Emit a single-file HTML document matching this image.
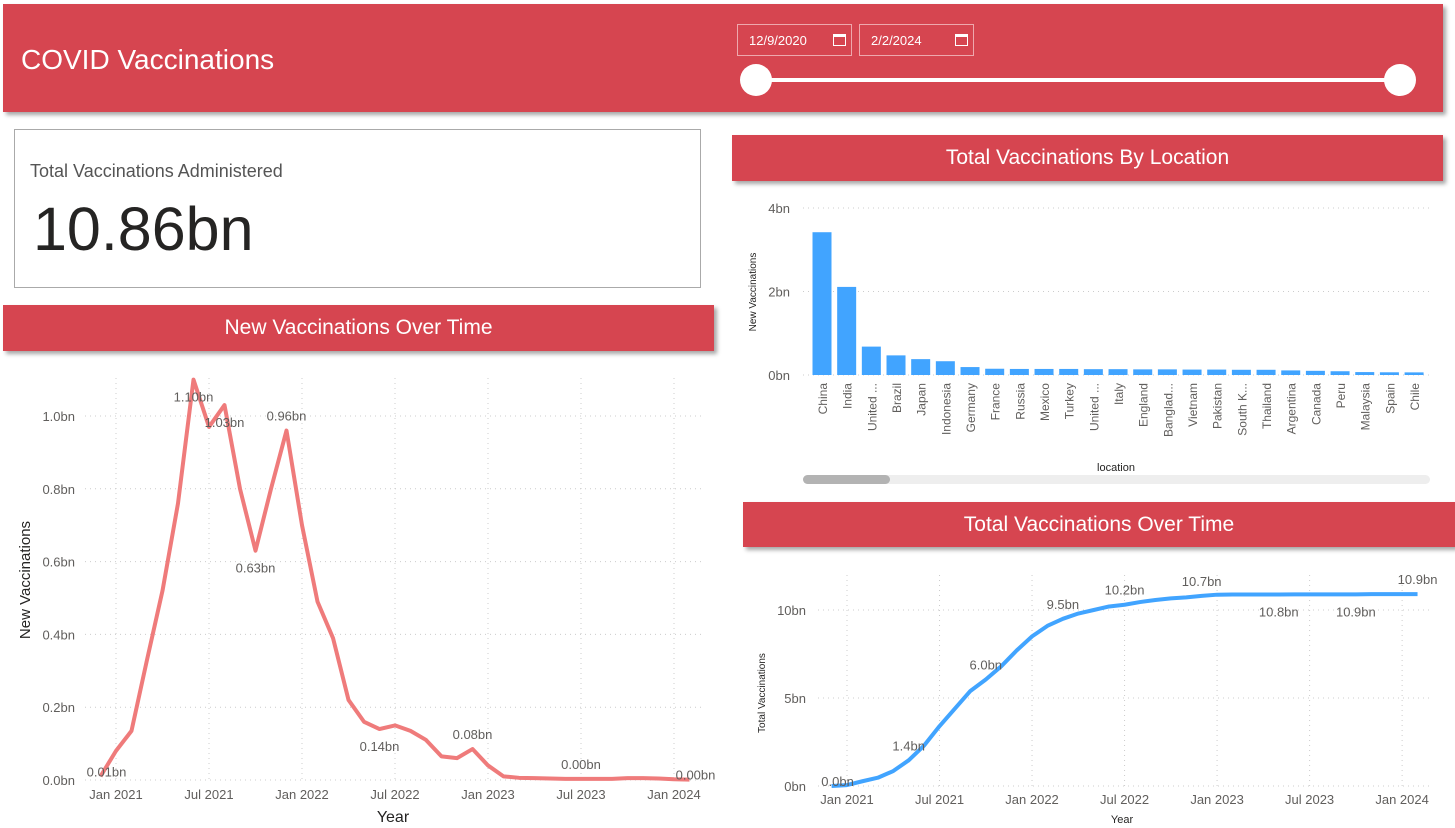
<!DOCTYPE html>
<html><head><meta charset="utf-8"><style>
body{margin:0;width:1455px;height:828px;background:#fff;position:relative;overflow:hidden;font-family:"Liberation Sans",sans-serif}
.red{position:absolute;background:#d64550;color:#fff;box-shadow:3px 3px 4px rgba(0,0,0,.35)}
.sec{display:flex;align-items:center;justify-content:center;font-size:21px}
.date{position:absolute;top:20px;height:32px;border:1px solid #eea8ad;color:#fff;font-size:13px;line-height:32px;padding-left:11px;box-sizing:border-box}
.cal{position:absolute;right:5px;top:9px;width:13px;height:12px;border:1px solid #fff;box-sizing:border-box;border-top-width:3px}
svg{position:absolute;left:0;top:0}
</style></head><body>
<div class="red" style="left:3px;top:4px;width:1440px;height:108px">
 <div style="position:absolute;left:18px;top:40px;font-size:28px">COVID Vaccinations</div>
 <div class="date" style="left:734px;width:115px">12/9/2020<div class="cal"></div></div>
 <div class="date" style="left:856px;width:115px">2/2/2024<div class="cal"></div></div>
 <div style="position:absolute;left:753px;top:74px;width:644px;height:4px;background:#fff"></div>
 <div style="position:absolute;left:737px;top:60px;width:32px;height:32px;border-radius:50%;background:#fff"></div>
 <div style="position:absolute;left:1381px;top:60px;width:32px;height:32px;border-radius:50%;background:#fff"></div>
</div>
<div style="position:absolute;left:14px;top:129px;width:685px;height:157px;border:1px solid #aaa">
 <div style="position:absolute;left:15px;top:31px;font-size:18px;color:#555">Total Vaccinations Administered</div>
 <div style="position:absolute;left:18px;top:64px;font-size:61px;color:#252423">10.86bn</div>
</div>
<div class="red sec" style="left:3px;top:305px;width:711px;height:46px">New Vaccinations Over Time</div>
<div class="red sec" style="left:732px;top:135px;width:711px;height:46px">Total Vaccinations By Location</div>
<div class="red sec" style="left:743px;top:502px;width:712px;height:45px">Total Vaccinations Over Time</div>
<svg id="s" width="1455" height="828" font-family="Liberation Sans, sans-serif"></svg>
<div style="position:absolute;left:803px;top:475px;width:627px;height:9px;border-radius:5px;background:#eee"></div>
<div style="position:absolute;left:803px;top:475px;width:87px;height:9px;border-radius:5px;background:#b3b3b3"></div>
<script>
const months=["Dec 2020","Jan 2021","Feb 2021","Mar 2021","Apr 2021","May 2021","Jun 2021","Jul 2021","Aug 2021","Sep 2021","Oct 2021","Nov 2021","Dec 2021","Jan 2022","Feb 2022","Mar 2022","Apr 2022","May 2022","Jun 2022","Jul 2022","Aug 2022","Sep 2022","Oct 2022","Nov 2022","Dec 2022","Jan 2023","Feb 2023","Mar 2023","Apr 2023","May 2023","Jun 2023","Jul 2023","Aug 2023","Sep 2023","Oct 2023","Nov 2023","Dec 2023","Jan 2024","Feb 2024"];
const newVacc=[0.01,0.08,0.135,0.33,0.52,0.76,1.10,0.97,1.03,0.80,0.63,0.80,0.96,0.70,0.49,0.39,0.22,0.16,0.14,0.15,0.135,0.11,0.065,0.06,0.085,0.04,0.01,0.006,0.005,0.004,0.003,0.003,0.003,0.003,0.005,0.005,0.004,0.002,0.001];
const newLabels=[[0,"0.01bn",0],[6,"1.10bn",1],[8,"1.03bn",1],[10,"0.63bn",1],[12,"0.96bn",-1],[18,"0.14bn",1],[24,"0.08bn",-1],[31,"0.00bn",-1],[38,"0.00bn",0]];
const newTicks=[0,0.2,0.4,0.6,0.8,1.0];
const newTickLabels=["0.0bn","0.2bn","0.4bn","0.6bn","0.8bn","1.0bn"];
const xTickLabels=["Jan 2021","Jul 2021","Jan 2022","Jul 2022","Jan 2023","Jul 2023","Jan 2024"];
const locations=["China","India","United ...","Brazil","Japan","Indonesia","Germany","France","Russia","Mexico","Turkey","United ...","Italy","England","Banglad...","Vietnam","Pakistan","South K...","Thailand","Argentina","Canada","Peru","Malaysia","Spain","Chile"];
const locValues=[3.42,2.11,0.68,0.47,0.38,0.33,0.19,0.15,0.145,0.145,0.145,0.14,0.14,0.135,0.135,0.13,0.13,0.125,0.125,0.11,0.10,0.09,0.07,0.065,0.063];
const locTicks=[0,2,4];
const locTickLabels=["0bn","2bn","4bn"];
const totalVacc=[0.0,0.05,0.27,0.47,0.85,1.46,2.3,3.4,4.4,5.4,6.05,6.8,7.7,8.5,9.1,9.5,9.8,10.0,10.2,10.3,10.45,10.57,10.66,10.72,10.8,10.87,10.88,10.88,10.88,10.88,10.89,10.89,10.89,10.89,10.89,10.9,10.9,10.9,10.9];
const totLabels=[[0,"0.0bn",0],[5,"1.4bn",-1],[10,"6.0bn",-1],[15,"9.5bn",-1],[19,"10.2bn",-1],[24,"10.7bn",-1],[29,"10.8bn",1],[34,"10.9bn",1],[38,"10.9bn",-1]];
const totTicks=[0,5,10];
const totTickLabels=["0bn","5bn","10bn"];

const S=document.getElementById('s');const NS="http://www.w3.org/2000/svg";
function mk(t,a,txt){const e=document.createElementNS(NS,t);for(const k in a)e.setAttribute(k,a[k]);if(txt!=null)e.textContent=txt;S.appendChild(e);return e;}

function timeChart(o){
 const x=i=>o.x0+(i-1)*o.mw, y=v=>o.y0-v*o.py;
 for(let k=0;k<7;k++){const gx=x(1+k*6);
  let g=mk('line',{x1:gx,x2:gx,y1:o.top,y2:o.y0,stroke:'#ccc','stroke-dasharray':'1 4'});
  
  let t=mk('text',{x:gx,y:o.y0+o.xl,'text-anchor':'middle','font-size':13,fill:'#605e5c'},xTickLabels[k]);
  }
 o.ticks.forEach((v,i)=>{
  let g=mk('line',{x1:o.gl,x2:o.gr,y1:y(v),y2:y(v),stroke:'#ccc','stroke-dasharray':'1 4'});
  
  let t=mk('text',{x:o.yl,y:y(v)+5,'text-anchor':'end','font-size':13,fill:'#605e5c'},o.tl[i]);
  });
 let p=mk('polyline',{points:o.vals.map((v,i)=>x(i)+','+y(v)).join(' '),fill:'none',stroke:o.col,'stroke-width':4,'stroke-linejoin':'round'});
 
 o.labs.forEach(l=>{let dy=l[2]<0?-10:(l[2]>0?22:0);let dx=l[2]===0?6:0;
  let t=mk('text',{x:x(l[0])+dx,y:y(o.vals[l[0]])+dy,'text-anchor':'middle','font-size':13,fill:'#605e5c'},l[1]);
  });
}
timeChart({x0:116,mw:15.5,y0:780,py:364,top:378,gl:85,gr:703,yl:75,xl:19,ticks:newTicks,tl:newTickLabels,vals:newVacc,labs:newLabels,col:'#ef7b7b',name:'new-vaccinations-line'});
timeChart({x0:847,mw:15.42,y0:786,py:17.6,top:575,gl:818,gr:1430,yl:806,xl:18,ticks:totTicks,tl:totTickLabels,vals:totalVacc,labs:totLabels,col:'#41a4ff',name:'total-vaccinations-line'});
let t;
t=mk('text',{x:393,y:822,'text-anchor':'middle','font-size':16,fill:'#252423'},'Year');
t=mk('text',{x:30,y:580,'text-anchor':'middle','font-size':15,fill:'#252423',transform:'rotate(-90 30 580)'},'New Vaccinations');
t=mk('text',{x:1122,y:823,'text-anchor':'middle','font-size':11,fill:'#252423'},'Year');
t=mk('text',{x:765,y:693,'text-anchor':'middle','font-size':10,fill:'#252423',transform:'rotate(-90 765 693)'},'Total Vaccinations');
const bx=i=>822+i*24.67, by=v=>375-v*41.75;
locTicks.forEach((v,i)=>{
 let g=mk('line',{x1:803,x2:1432,y1:by(v),y2:by(v),stroke:'#ccc','stroke-dasharray':'1 4'});
 
 let tt=mk('text',{x:790,y:by(v)+5,'text-anchor':'end','font-size':13,fill:'#605e5c'},locTickLabels[i]);
 });
locations.forEach((n,i)=>{
 let r=mk('rect',{x:bx(i)-9.5,y:by(locValues[i]),width:19,height:locValues[i]*41.75,fill:'#41a4ff'});
 
 let tt=mk('text',{x:bx(i)+5,y:383,'text-anchor':'end','font-size':12,fill:'#605e5c',transform:'rotate(-90 '+(bx(i)+5)+' 383)'},n);
 });
t=mk('text',{x:1116,y:471,'text-anchor':'middle','font-size':11,fill:'#252423'},'location');
t=mk('text',{x:756,y:292,'text-anchor':'middle','font-size':10,fill:'#252423',transform:'rotate(-90 756 292)'},'New Vaccinations');
</script>
</body></html>
